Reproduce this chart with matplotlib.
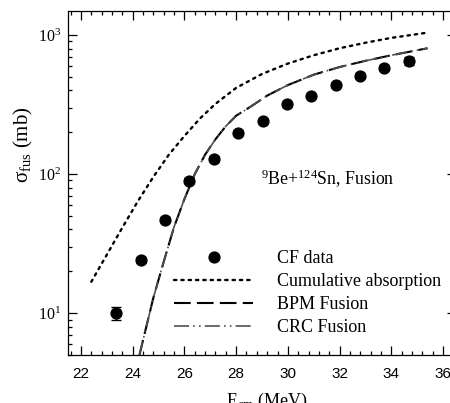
import matplotlib
matplotlib.use("Agg")
import matplotlib.pyplot as plt
from matplotlib.lines import Line2D
from matplotlib.ticker import FixedLocator, LogLocator, NullFormatter, MultipleLocator

plt.rcParams['mathtext.fontset'] = 'custom'
plt.rcParams['mathtext.rm'] = 'Liberation Serif'
plt.rcParams['mathtext.it'] = 'Liberation Serif:italic'
plt.rcParams['font.family'] = ['Liberation Serif', 'DejaVu Serif']

# CF data
cf_E = [23.35, 24.32, 25.25, 26.18, 27.14, 28.08, 29.03, 29.96, 30.91, 31.86, 32.80, 33.73, 34.67]
cf_sig = [10.0, 24.2, 47.0, 89.6, 129, 199, 242, 318, 365, 436, 511, 582, 650]
cf_err = [1.0, 1.2, 2.0, 3.5, 5.0, 8.0, 9.0, 12.0, 14.0, 16.0, 20.0, 25.0, 40.0]

# Cumulative absorption
ca_E = [22.4, 23.0, 23.6, 24.2, 24.8, 25.4, 26.0, 26.6, 27.2, 28.0, 29.0, 30.0, 31.0, 32.0, 33.0, 34.0, 35.3]
ca_sig = [16.8, 26.3, 41.2, 63.8, 95.5, 138, 188, 251, 320, 417, 525, 624, 716, 804, 881, 955, 1035]

# BPM fusion
bpm_E = [24.25, 24.8, 25.2, 25.6, 26.0, 26.4, 26.8, 27.2, 27.6, 28.0, 28.6, 29.2, 30.0, 31.0, 32.0, 33.0, 34.0, 35.4]
bpm_sig = [4.9, 12.9, 23.4, 41.7, 66.1, 100, 138, 178, 221, 263, 309, 367, 437, 519, 589, 653, 716, 804]

# CRC fusion
crc_E = [24.25, 24.8, 25.2, 25.6, 26.0, 26.4, 26.8, 27.2, 27.6, 28.0, 28.6, 29.2, 30.0, 31.0, 32.0, 33.0, 34.0, 35.4]
crc_sig = [4.9, 12.9, 23.4, 41.7, 66.1, 100, 138, 178, 221, 263, 309, 367, 437, 519, 589, 653, 716, 804]

x_ticks = [22, 24, 26, 28, 30, 32, 34, 36]
y_ticks = [10, 100, 1000]
y_ticklabels = [r'10$^{1}$', r'10$^{2}$', r'10$^{3}$']

fig = plt.figure(figsize=(4.5, 4.03), dpi=100)
ax = fig.add_axes([68/450, 48/403, 388/450, 344/403])

l_ca, = ax.plot(ca_E, ca_sig, color='black', lw=1.7, linestyle=(0, (1, 2.1)),
                dash_capstyle='round', zorder=2)
l_bpm, = ax.plot(bpm_E, bpm_sig, color='black', lw=1.5, linestyle=(0, (8, 3)), zorder=3)
l_crc, = ax.plot(crc_E, crc_sig, color='#505050', lw=1.2,
                 linestyle=(0, (9, 2.5, 1, 2.5, 1, 2.5)), zorder=4)
ax.errorbar(cf_E, cf_sig, yerr=cf_err, fmt='o', color='black', ms=7.8,
            capsize=3.5, elinewidth=1, capthick=1, zorder=5)
h_cf = Line2D([], [], marker='o', linestyle='none', color='black', ms=7.8)

ax.set_yscale('log')
ax.set_xlim(21.5, 36.5)
ax.set_ylim(5, 1490)

ax.xaxis.set_major_locator(FixedLocator(x_ticks))
ax.xaxis.set_minor_locator(MultipleLocator(0.4))
ax.set_yticks(y_ticks)
ax.set_yticklabels(y_ticklabels)
ax.yaxis.set_minor_locator(LogLocator(base=10, subs=range(2, 10)))
ax.yaxis.set_minor_formatter(NullFormatter())

ax.tick_params(which='both', direction='in', top=True, right=True, width=0.9)
ax.tick_params(which='major', length=6.5)
ax.tick_params(which='minor', length=3)
ax.tick_params(axis='x', which='major', pad=9)
ax.tick_params(axis='y', which='major', pad=5, labelsize=11.5)
for lab in ax.get_xticklabels():
    lab.set_family('Liberation Sans')
    lab.set_fontsize(11)
for sp in ax.spines.values():
    sp.set_linewidth(0.9)
ax.spines['right'].set_visible(False)

ax.set_xlabel(r'E$_{\rm cm}$ (MeV)', fontsize=13)
ax.set_ylabel(r'σ$_{\rm fus}$ (mb)', fontsize=15)
ax.xaxis.set_label_coords(0.512, -0.105)
ax.yaxis.set_label_coords(-0.085, 0.61)

ax.text(261, 403 - 179, r'$^{9}$Be+$^{124}$Sn, Fusion', transform=None,
        fontsize=12.8, va='center')

leg = ax.legend([h_cf, l_ca, l_bpm, l_crc],
                ['CF data', 'Cumulative absorption', 'BPM Fusion', 'CRC Fusion'],
                loc='upper left', bbox_to_anchor=(0.273, 0.305), frameon=False,
                fontsize=13, handlelength=4.4, handletextpad=1.3,
                labelspacing=0.33, borderpad=0, borderaxespad=0)

fig.savefig('out.png', dpi=100)
